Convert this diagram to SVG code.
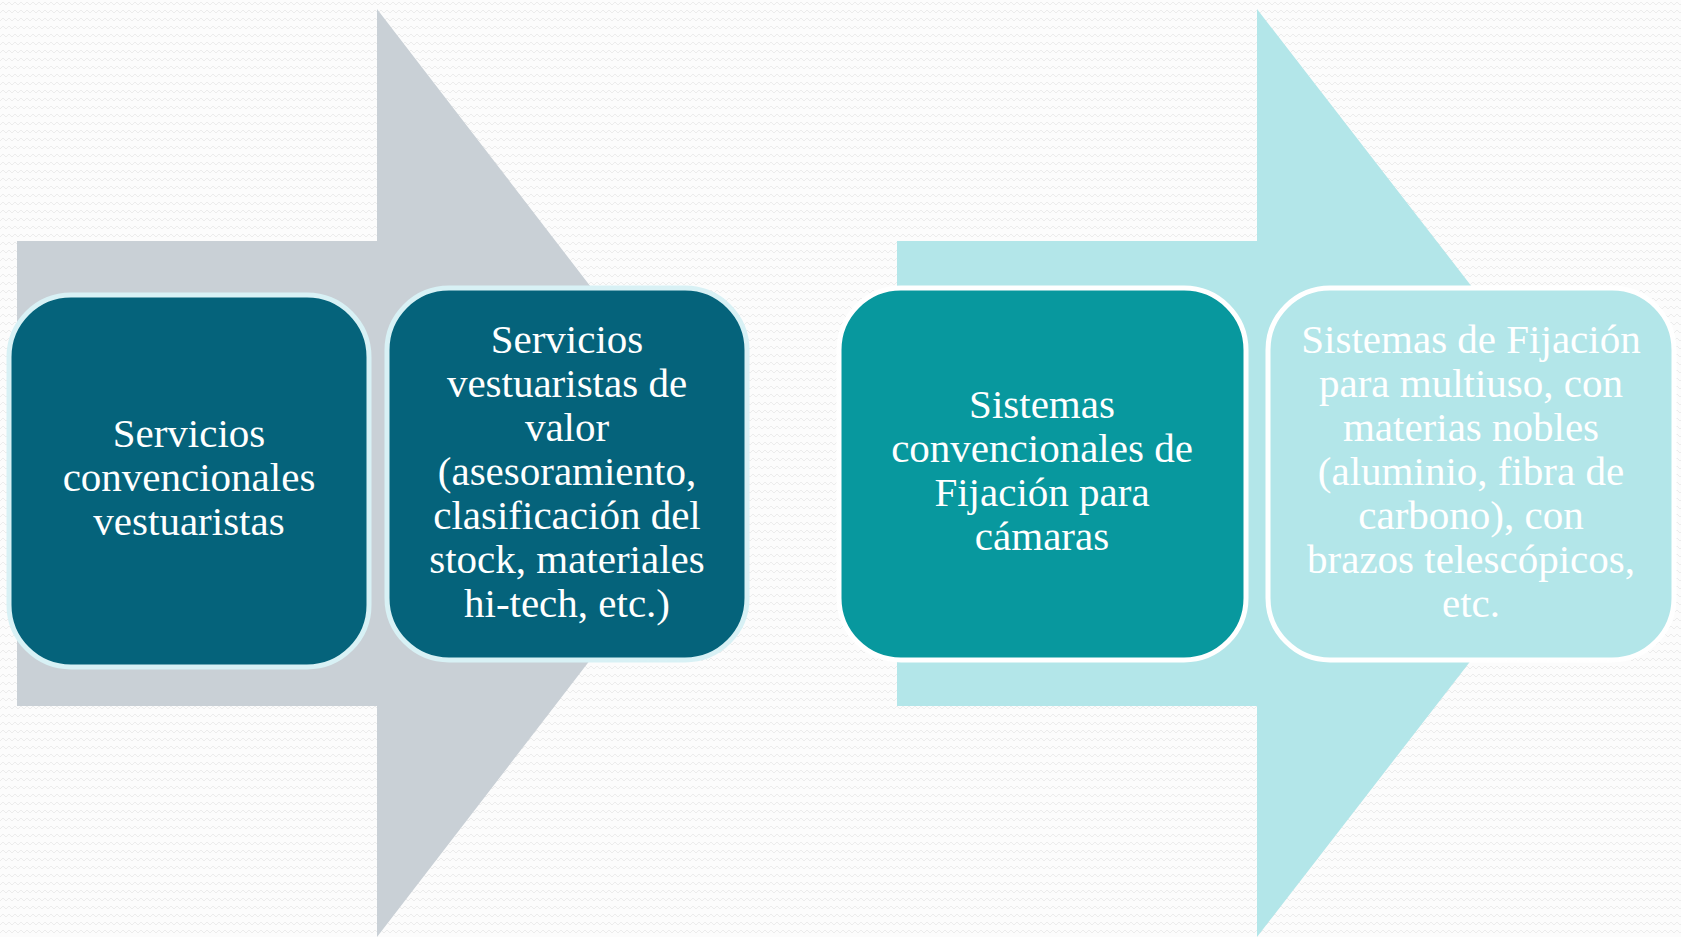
<svg xmlns="http://www.w3.org/2000/svg" width="1681" height="937" viewBox="0 0 1681 937">
  <defs>
    <pattern id="bg" width="12" height="8" patternUnits="userSpaceOnUse">
      <rect width="12" height="8" fill="#fcfcfc"/>
      <path d="M0,5 L3,2 L6,5 L9,2 L12,5" stroke="#ececec" stroke-width="1" fill="none"/>
    </pattern>
    <style>
      .lbl { font-family: "Liberation Serif", "Times New Roman", serif; font-size: 41px; fill: #ffffff; text-anchor: middle; }
      .dark { fill: #05637b; stroke: #d8f1f5; stroke-width: 5; }
      .teal { fill: #08989e; stroke: #ffffff; stroke-width: 5; }
      .light { fill: #b3e6e9; stroke: #ffffff; stroke-width: 5; }
    </style>
  </defs>
  <rect width="1681" height="937" fill="url(#bg)"/>
  <g id="connectors">
    <path id="arrow-left" d="M17,241 H377 V9 L734,473 L377,937 V706 H17 Z" fill="#c9d0d6"/>
    <path id="arrow-right" d="M897,241 H1257 V9 L1616,473 L1257,937 V706 H897 Z" fill="#b3e6e9"/>
  </g>
  <g id="node1">
    <rect class="dark" x="9" y="295" width="360" height="372" rx="62" ry="62"/>
    <text class="lbl" x="189" y="447">Servicios</text>
    <text class="lbl" x="189" y="491">convencionales</text>
    <text class="lbl" x="189" y="535">vestuaristas</text>
  </g>
  <g id="node2">
    <rect class="dark" x="387" y="288" width="360" height="372" rx="62" ry="62"/>
    <text class="lbl" x="567" y="353">Servicios</text>
    <text class="lbl" x="567" y="397">vestuaristas de</text>
    <text class="lbl" x="567" y="441">valor</text>
    <text class="lbl" x="567" y="485">(asesoramiento,</text>
    <text class="lbl" x="567" y="529">clasificación del</text>
    <text class="lbl" x="567" y="573">stock, materiales</text>
    <text class="lbl" x="567" y="617">hi-tech, etc.)</text>
  </g>
  <g id="node3">
    <rect class="teal" x="839" y="288" width="407" height="372" rx="62" ry="62"/>
    <text class="lbl" x="1042" y="418">Sistemas</text>
    <text class="lbl" x="1042" y="462">convencionales de</text>
    <text class="lbl" x="1042" y="506">Fijación para</text>
    <text class="lbl" x="1042" y="550">cámaras</text>
  </g>
  <g id="node4">
    <rect class="light" x="1268" y="288" width="406" height="372" rx="62" ry="62"/>
    <text class="lbl" x="1471" y="353">Sistemas de Fijación</text>
    <text class="lbl" x="1471" y="397">para multiuso, con</text>
    <text class="lbl" x="1471" y="441">materias nobles</text>
    <text class="lbl" x="1471" y="485">(aluminio, fibra de</text>
    <text class="lbl" x="1471" y="529">carbono), con</text>
    <text class="lbl" x="1471" y="573">brazos telescópicos,</text>
    <text class="lbl" x="1471" y="617">etc.</text>
  </g>
</svg>
